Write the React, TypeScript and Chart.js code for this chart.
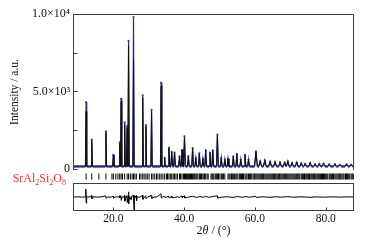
import { useEffect, useRef } from "react";
import { Chart, registerables } from "chart.js";

Chart.register(...registerables);

const FONT = '"Liberation Serif", "Times New Roman", serif';

// ---- data ----
const xMin = 8.6;
const xMax = 88;
const background = 150;

const peakPos = [12.3, 13.9, 17.9, 20.0, 21.8, 22.2, 23.2, 23.9, 24.3, 25.7, 28.3, 29.2, 30.8, 33.5, 34.5, 35.7, 36.5, 37.3, 38.7, 39.4, 40.1, 41.2, 42.4, 43.3, 44.3, 45.3, 46.1, 47.3, 48.1, 49.4, 50.5, 51.5, 52.4, 53.9, 54.9, 56.0, 57.2, 58.2, 60.3, 61.5, 62.8, 64.3, 65.7, 67.1, 68.4, 69.3, 70.5, 71.8, 73.1, 74.2, 75.6, 77.0, 78.2, 79.4, 81.0, 82.6, 84.0, 85.9, 87.2];
const obsPeak = [4300, 1880, 2420, 900, 1700, 4520, 3000, 2750, 8260, 9800, 4750, 2820, 3800, 5560, 710, 1360, 1100, 1040, 800, 1230, 2100, 820, 1340, 700, 1000, 650, 1200, 1040, 1190, 2200, 700, 600, 650, 800, 970, 600, 900, 600, 1120, 500, 550, 470, 450, 420, 400, 480, 380, 420, 350, 320, 380, 300, 320, 330, 280, 300, 260, 290, 260];
const calcPeak = [3700, 1820, 2350, 880, 1650, 4350, 2900, 2650, 7900, 7100, 4600, 2750, 3700, 5350, 700, 1330, 1080, 1020, 790, 1200, 2050, 810, 1310, 690, 980, 640, 1180, 1020, 1170, 2150, 690, 590, 640, 790, 950, 590, 880, 590, 1100, 490, 540, 460, 440, 410, 390, 470, 370, 410, 340, 310, 370, 290, 310, 320, 270, 290, 250, 280, 250];

const reflections = [12.3, 13.9, 15.9, 17.9, 19.6, 20.0, 20.7, 21.3, 21.8, 22.2, 22.6, 23.2, 23.9, 24.3, 24.8, 25.3, 25.7, 26.1, 26.5, 27.4, 27.8, 28.3, 28.7, 29.2, 29.6, 30.1, 30.8, 31.2, 31.7, 32.2, 32.6, 33.1, 33.5, 34.0, 34.5, 35.0, 35.3, 35.7, 36.1, 36.5, 36.9, 37.3, 37.7, 38.1, 38.7, 39.0, 39.4, 39.8, 40.1, 40.4, 40.7, 41.0, 41.2, 41.5, 41.8, 42.1, 42.4, 42.7, 43.0, 43.3, 43.6, 43.9, 44.3, 44.6, 44.9, 45.3, 45.6, 45.8, 46.1, 46.5, 46.8, 47.6, 47.9, 48.1, 48.4, 48.8, 49.1, 49.4, 49.7, 50.1, 50.5, 50.8, 51.1, 51.5, 52.4, 52.7, 53.0, 53.4, 53.6, 53.9, 54.2, 54.6, 54.9, 55.2, 55.6, 55.9, 56.2, 56.5, 56.8, 57.2, 57.5, 57.8, 58.2, 58.5, 58.8, 59.1, 59.5, 59.8, 60.0, 60.3, 60.6, 60.9, 61.2, 61.5, 61.8, 62.1, 62.4, 62.8, 63.1, 63.4, 63.7, 64.0, 64.3, 64.6, 64.9, 65.2, 65.5, 65.7, 66.0, 66.3, 66.6, 66.9, 67.1, 67.4, 67.7, 68.0, 68.4, 68.7, 69.0, 69.3, 69.6, 69.9, 70.2, 70.5, 70.8, 71.1, 71.4, 71.8, 72.1, 72.4, 72.7, 73.1, 73.4, 73.7, 74.0, 74.2, 74.5, 74.8, 75.1, 75.4, 75.6, 75.9, 76.2, 76.5, 76.8, 77.0, 77.3, 77.6, 77.9, 78.2, 78.5, 78.8, 79.1, 79.4, 79.7, 80.0, 80.3, 80.6, 81.0, 81.3, 81.6, 81.9, 82.2, 82.6, 82.9, 83.2, 83.5, 83.8, 84.0, 84.3, 84.6, 84.9, 85.2, 85.6, 85.9, 86.2, 86.5, 86.8, 87.2, 87.5, 87.8];

const resX = [8.6, 10.0, 11.0, 12.0, 12.2, 12.27, 12.33, 12.45, 12.7, 13.5, 13.85, 13.95, 14.3, 15.5, 16.5, 17.85, 17.95, 18.3, 19.5, 19.95, 20.05, 20.5, 21.5, 21.75, 21.85, 22.15, 22.25, 22.5, 22.9, 23.15, 23.25, 23.6, 23.85, 23.95, 24.2, 24.27, 24.37, 24.6, 25.0, 25.1, 25.3, 25.6, 25.7, 25.85, 25.95, 26.2, 26.45, 26.55, 26.8, 27.5, 28.25, 28.35, 28.8, 29.15, 29.25, 29.8, 30.75, 30.85, 31.5, 32.4, 33.45, 33.55, 34.0, 34.5, 34.6, 35.0, 35.65, 35.75, 36.45, 36.55, 37.3, 38.0, 38.7, 39.4, 39.5, 40.05, 40.15, 41.0, 42.4, 43.5, 44.3, 45.5, 46.1, 47.0, 48.1, 49.35, 49.45, 50.5, 52.0, 53.9, 55.0, 56.5, 57.2, 58.5, 60.25, 60.4, 62.0, 64.3, 66.0, 67.5, 69.3, 71.0, 73.0, 75.6, 77.5, 79.4, 82.0, 84.0, 86.0, 88.0];
const resY = [0, 30, -30, 20, 300, 1700, -1300, 150, 0, 30, 300, -350, 20, -30, 30, 250, -300, 0, -30, 200, -250, 20, -20, 250, -200, 300, -700, 50, -50, 300, -900, 50, 300, -1200, 200, 1100, -1500, 100, -600, 100, 50, 400, -200, -2800, 300, -100, 300, -800, 50, -40, 350, -500, 30, 250, -350, 40, 300, -300, -30, 40, 700, -200, 30, 150, -120, -40, 200, -200, 150, -150, -120, 60, -60, 200, -100, 250, -200, -60, 150, -100, 100, -60, 150, -80, 120, 250, -200, -60, 60, -90, 100, -60, 90, -50, 150, -120, 50, -60, 60, -40, 80, -50, 40, -60, 30, -40, 30, -30, 40, 0];

const yTickValues = [0, 2500, 5000, 7500, 10000];
const yTickLabels: Record<number, string> = { 0: "0", 5000: "5.0×10³", 10000: "1.0×10⁴" };
const xTickValues = [20, 40, 60, 80];

const phaseName = [["SrAl", false], ["2", true], ["Si", false], ["2", true], ["O", false], ["8", true]] as [string, boolean][];

// ---- build the line tables from the peak list ----
function halfWidth(p: number) {
  return p < 35 ? 0.18 : p < 60 ? 0.25 : 0.4;
}
function profile(heights: number[]) {
  const pts: { x: number; y: number }[] = [{ x: xMin, y: background }];
  peakPos.forEach((p, i) => {
    const w = halfWidth(p);
    pts.push({ x: p - w, y: background });
    pts.push({ x: p, y: heights[i] });
    pts.push({ x: p + w, y: background });
  });
  pts.push({ x: xMax, y: background });
  return pts;
}

const obsData = profile(obsPeak);
const calcData = profile(calcPeak);
const isFlat = (data: { y: number }[], c: any) =>
  data[c.p0DataIndex].y === background && data[c.p1DataIndex].y === background;

const framePlugin = {
  id: "frame",
  afterDraw(chart: any) {
    const { ctx, scales } = chart;
    const x = scales.x;
    const y = scales.y;
    const r = scales.yRes;
    const m = scales.yMarks;
    ctx.save();
    ctx.strokeStyle = "#3c3c3c";
    ctx.lineWidth = 1;
    const L = Math.round(x.left) + 0.5;
    const R = Math.round(x.right) - 0.5;
    ctx.beginPath();
    ctx.moveTo(L, y.bottom);
    ctx.lineTo(L, Math.round(y.top) + 0.5);
    ctx.lineTo(R, Math.round(y.top) + 0.5);
    ctx.lineTo(R, y.bottom);
    ctx.stroke();
    const T = Math.round(r.top) + 0.5;
    const B = Math.round(r.bottom) - 0.5;
    ctx.strokeRect(L, T, R - L, B - T);
    ctx.beginPath();
    yTickValues.forEach((v) => {
      const py = Math.round(y.getPixelForValue(v)) + 0.5;
      ctx.moveTo(L, py);
      ctx.lineTo(L + 4, py);
    });
    xTickValues.forEach((v) => {
      const px = Math.round(x.getPixelForValue(v)) + 0.5;
      ctx.moveTo(px, B);
      ctx.lineTo(px, B - 3);
    });
    ctx.stroke();

    const big = `12px ${FONT}`;
    const small = `8px ${FONT}`;
    let total = 0;
    phaseName.forEach(([t, sub]) => {
      ctx.font = sub ? small : big;
      total += ctx.measureText(t).width;
    });
    let cx = x.left - 7 - total;
    const base = (m.top + m.bottom) / 2 + 5;
    ctx.fillStyle = "#e5362f";
    ctx.textBaseline = "alphabetic";
    ctx.textAlign = "left";
    phaseName.forEach(([t, sub]) => {
      ctx.font = sub ? small : big;
      ctx.fillText(t, cx, sub ? base + 3 : base);
      cx += ctx.measureText(t).width;
    });

    const parts: [string, string][] = [["2", `12px ${FONT}`], ["θ", `italic 12px ${FONT}`], [" / (°)", `12px ${FONT}`]];
    let tw = 0;
    parts.forEach(([t, f]) => {
      ctx.font = f;
      tw += ctx.measureText(t).width;
    });
    let tx = (x.left + x.right) / 2 - tw / 2;
    const ty = x.top + 20;
    ctx.fillStyle = "#111";
    ctx.textBaseline = "middle";
    parts.forEach(([t, f]) => {
      ctx.font = f;
      ctx.fillText(t, tx, ty);
      tx += ctx.measureText(t).width;
    });
    ctx.restore();
  },
};

export default function App() {
  const ref = useRef<HTMLCanvasElement | null>(null);
  useEffect(() => {
    if (!ref.current) return;
    const chart = new Chart(ref.current, {
      type: "scatter",
      data: {
        datasets: [
          {
            label: "calc",
            data: calcData,
            showLine: true,
            borderColor: "#111111",
            borderWidth: 1,
            pointRadius: 0,
            tension: 0,
            yAxisID: "y",
            order: 0,
            segment: {
              borderColor: (c: any) => (isFlat(calcData, c) ? "rgba(0,0,0,0)" : undefined),
            },
          },
          {
            label: "obs",
            data: obsData,
            showLine: true,
            borderColor: "#262b86",
            borderWidth: 1,
            pointRadius: (c: any) => (c.raw && c.raw.y > background ? 1.1 : 0),
            pointBackgroundColor: "#3a3fb0",
            pointBorderWidth: 0,
            tension: 0,
            yAxisID: "y",
            order: 1,
            segment: {
              borderWidth: (c: any) => (isFlat(obsData, c) ? 2.4 : 1.2),
            },
          },
          {
            label: "reflections",
            data: reflections.map((p) => ({ x: p, y: 0.5 })),
            showLine: false,
            pointStyle: "line",
            rotation: 90,
            pointRadius: 3,
            borderColor: "#000",
            borderWidth: 1,
            yAxisID: "yMarks",
            order: 2,
          },
          {
            label: "diff",
            data: resX.map((v, i) => ({ x: v, y: resY[i] })),
            showLine: true,
            borderColor: "#000",
            borderWidth: 1,
            pointRadius: 0,
            tension: 0,
            yAxisID: "yRes",
            order: 3,
          },
        ],
      },
      options: {
        animation: false,
        responsive: false,
        devicePixelRatio: 1,
        layout: { padding: { top: 14, right: 11, left: 0, bottom: 0 } },
        plugins: { legend: { display: false }, tooltip: { enabled: false } },
        scales: {
          x: {
            type: "linear",
            position: "bottom",
            min: xMin,
            max: xMax,
            grid: { display: false, drawTicks: false },
            border: { display: false },
            afterBuildTicks: (s: any) => {
              s.ticks = xTickValues.map((v) => ({ value: v }));
            },
            ticks: {
              autoSkip: false,
              maxRotation: 0,
              padding: 1,
              color: "#111",
              font: { family: FONT, size: 11.5 },
              callback: (v: any) => Number(v).toFixed(1),
            },
            afterFit: (s: any) => {
              s.height = 31;
            },
          },
          y: {
            type: "linear",
            position: "left",
            stack: "xrd",
            stackWeight: 156,
            weight: 3,
            min: -80,
            max: 10000,
            grid: { display: false, drawTicks: false },
            border: { display: false },
            afterBuildTicks: (s: any) => {
              s.ticks = yTickValues.map((v) => ({ value: v }));
            },
            ticks: {
              autoSkip: false,
              padding: 3,
              color: "#111",
              font: { family: FONT, size: 12 },
              callback: (v: any) => yTickLabels[Number(v)] ?? "",
            },
            title: {
              display: true,
              text: "Intensity / a.u.",
              color: "#111",
              font: { family: FONT, size: 11.5 },
              padding: { top: 8, bottom: 0 },
            },
            afterFit: (s: any) => {
              s.width = 73;
            },
          },
          yMarks: {
            type: "linear",
            position: "left",
            stack: "xrd",
            stackWeight: 13,
            weight: 2,
            min: 0,
            max: 1,
            grid: { display: false, drawTicks: false },
            border: { display: false },
            ticks: { display: false },
            afterFit: (s: any) => {
              s.width = 73;
            },
          },
          yRes: {
            type: "linear",
            position: "left",
            stack: "xrd",
            stackWeight: 28,
            weight: 1,
            min: -3000,
            max: 3000,
            grid: { display: false, drawTicks: false },
            border: { display: false },
            ticks: { display: false },
            afterFit: (s: any) => {
              s.width = 73;
            },
          },
        },
      } as any,
      plugins: [framePlugin],
    });
    return () => chart.destroy();
  }, []);

  return (
    <div style={{ position: "absolute", left: 0, top: 0, width: 365, height: 242, background: "#fff" }}>
      <canvas ref={ref} width={365} height={242} />
    </div>
  );
}
